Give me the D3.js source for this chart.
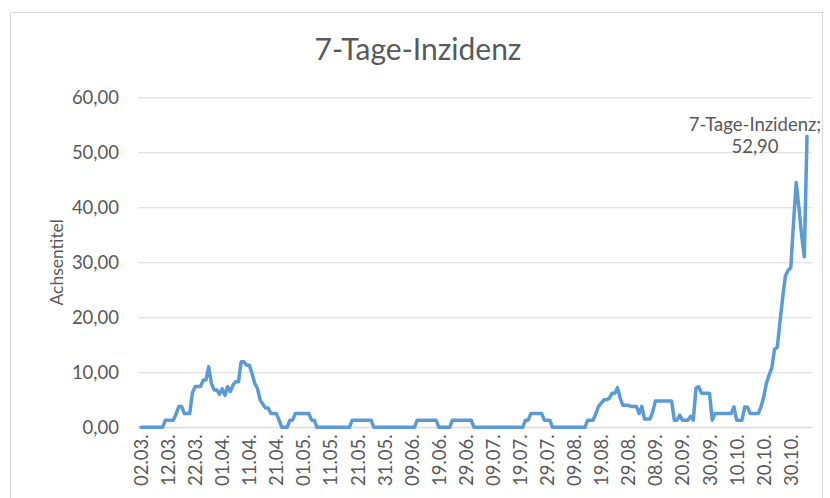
<!DOCTYPE html>
<html>
<head>
<meta charset="utf-8">
<script src="https://cdn.jsdelivr.net/npm/d3@7"></script>
<style>
    body { margin: 0; background: #fff; }
    text { font-family: Lato, "Open Sans", sans-serif; fill: #595959; }
</style>
</head>
<body>
<script>
//chart data
var chartTitle = "7-Tage-Inzidenz"
var seriesName = "7-Tage-Inzidenz"
var yAxisTitle = "Achsentitel"
var yTicks = [0, 10, 20, 30, 40, 50, 60]

//every 10th category gets a label
var tickLabels = ["02.03.", "12.03.", "22.03.", "01.04.", "11.04.", "21.04.", "01.05.", "11.05.", "21.05.",
    "31.05.", "09.06.", "19.06.", "29.06.", "09.07.", "19.07.", "29.07.", "09.08.", "19.08.", "29.08.",
    "08.09.", "20.09.", "30.09.", "10.10.", "20.10.", "30.10."]

var values = [
    0, 0, 0, 0, 0, 0, 0, 0, 0, 1.3,
    1.3, 1.3, 1.3, 2.5, 3.8, 3.8, 2.5, 2.5, 2.5, 6.3,
    7.4, 7.4, 7.4, 8.6, 8.6, 11.0, 8.0, 6.8, 6.8, 6.0,
    7.0, 5.8, 7.4, 6.5, 7.7, 8.3, 8.3, 11.9, 11.9, 11.3,
    11.3, 9.8, 8.0, 7.1, 5.0, 4.2, 3.5, 3.5, 2.5, 2.5,
    2.5, 1.3, 0, 0, 0, 1.3, 1.3, 2.5, 2.5, 2.5,
    2.5, 2.5, 2.5, 1.3, 1.3, 0, 0, 0, 0, 0,
    0, 0, 0, 0, 0, 0, 0, 0, 1.3, 1.3,
    1.3, 1.3, 1.3, 1.3, 1.3, 1.3, 0, 0, 0, 0,
    0, 0, 0, 0, 0, 0, 0, 0, 0, 0,
    0, 0, 1.3, 1.3, 1.3, 1.3, 1.3, 1.3, 1.3, 1.3,
    0, 0, 0, 0, 0, 1.3, 1.3, 1.3, 1.3, 1.3,
    1.3, 1.3, 1.3, 0, 0, 0, 0, 0, 0, 0,
    0, 0, 0, 0, 0, 0, 0, 0, 0, 0,
    0, 0, 1.3, 1.3, 2.5, 2.5, 2.5, 2.5, 2.5, 1.3,
    1.3, 1.3, 0, 0, 0, 0, 0, 0, 0, 0,
    0, 0, 0, 0, 0, 1.3, 1.3, 1.3, 2.5, 3.8,
    4.4, 5.0, 5.0, 5.3, 6.2, 6.2, 7.2, 5.3, 4.0, 4.0,
    4.0, 3.8, 3.8, 3.8, 2.5, 3.8, 1.5, 1.5, 1.5, 2.8,
    4.8, 4.8, 4.8, 4.8, 4.8, 4.8, 4.8, 1.3, 1.3, 2.2,
    1.3, 1.3, 1.3, 2.0, 1.3, 7.1, 7.4, 6.2, 6.2, 6.2,
    6.2, 1.3, 2.5, 2.5, 2.5, 2.5, 2.5, 2.5, 2.5, 3.7,
    1.3, 1.3, 1.3, 3.7, 3.7, 2.5, 2.5, 2.5, 2.5, 3.7,
    5.5, 8.0, 9.5, 10.8, 14.2, 14.5, 19.0, 23.5, 27.5, 28.5,
    29.0, 37.0, 44.5, 40.0, 35.0, 31.0, 52.9
]

//size of the page and the plot area
const width = 830
const height = 498
const plotLeft = 138
const plotRight = 812
const plotTop = 97.3
const plotBottom = 427.3

//german number format: 52,90
var de = d3.formatLocale({ decimal: ",", thousands: ".", grouping: [3], currency: ["", " €"] })
var fmt = de.format(".2f")

var svg = d3.select("body")
    .append("svg")
    .attr("width", width)
    .attr("height", height)

//chart border
svg.append("rect")
    .attr("x", 10.5)
    .attr("y", 12.5)
    .attr("width", 812)
    .attr("height", 500)
    .attr("fill", "#fff")
    .attr("stroke", "#d9d9d9")

var xScale = d3.scaleLinear()
    .domain([0, values.length - 1])
    .range([141, 807])

var yScale = d3.scaleLinear()
    .domain([0, 60])
    .range([plotBottom, plotTop])

//y axis with gridlines
var yAxis = d3.axisLeft(yScale)
    .tickValues(yTicks)
    .tickFormat(fmt)
    .tickSizeInner(-(plotRight - plotLeft))
    .tickSizeOuter(0)
    .tickPadding(19)

var gy = svg.append("g")
    .attr("transform", "translate(" + plotLeft + ",0)")
    .call(yAxis)
gy.select(".domain").remove()
gy.selectAll("line").attr("stroke", "#d9d9d9")
gy.selectAll("text")
    .attr("fill", "#595959")
    .style("font-size", "18.5px")
    .style("font-family", "Lato, sans-serif")

//x axis, labels turned upright
var xAxis = d3.axisBottom(xScale)
    .tickValues(tickLabels.map((d, i) => i * 10))
    .tickFormat((d) => tickLabels[d / 10])
    .tickSize(0)

var gx = svg.append("g")
    .attr("transform", "translate(0," + plotBottom + ")")
    .call(xAxis)
gx.select(".domain").attr("stroke", "#d9d9d9").attr("d", "M" + plotLeft + ",0H" + plotRight)
gx.selectAll("text")
    .attr("transform", "rotate(-90)")
    .attr("x", -7)
    .attr("y", 0)
    .attr("dy", "0.35em")
    .attr("fill", "#595959")
    .style("text-anchor", "end")
    .style("font-size", "18.5px")
    .style("font-family", "Lato, sans-serif")

//title
svg.append("text")
    .attr("x", 418)
    .attr("y", 60)
    .attr("text-anchor", "middle")
    .style("font-size", "30px")
    .text(chartTitle)

//y axis title
svg.append("text")
    .attr("transform", "rotate(-90)")
    .attr("x", -(plotTop + plotBottom) / 2)
    .attr("y", 63)
    .attr("text-anchor", "middle")
    .style("font-size", "17.5px")
    .text(yAxisTitle)

//the line
var line = d3.line()
    .x((d, i) => xScale(i))
    .y((d) => yScale(d))

svg.append("path")
    .datum(values)
    .attr("d", line)
    .attr("fill", "none")
    .attr("stroke", "#5b9bd5")
    .attr("stroke-width", 3.5)
    .attr("stroke-linejoin", "round")
    .attr("stroke-linecap", "round")

//data label on the last point
var last = values.length - 1
var label = svg.append("text")
    .attr("text-anchor", "middle")
    .style("font-size", "18.5px")
label.append("tspan")
    .attr("x", 755)
    .attr("y", 131)
    .text(seriesName + ";")
label.append("tspan")
    .attr("x", 755)
    .attr("y", 153)
    .text(fmt(values[last]))
</script>
</body>
</html>
